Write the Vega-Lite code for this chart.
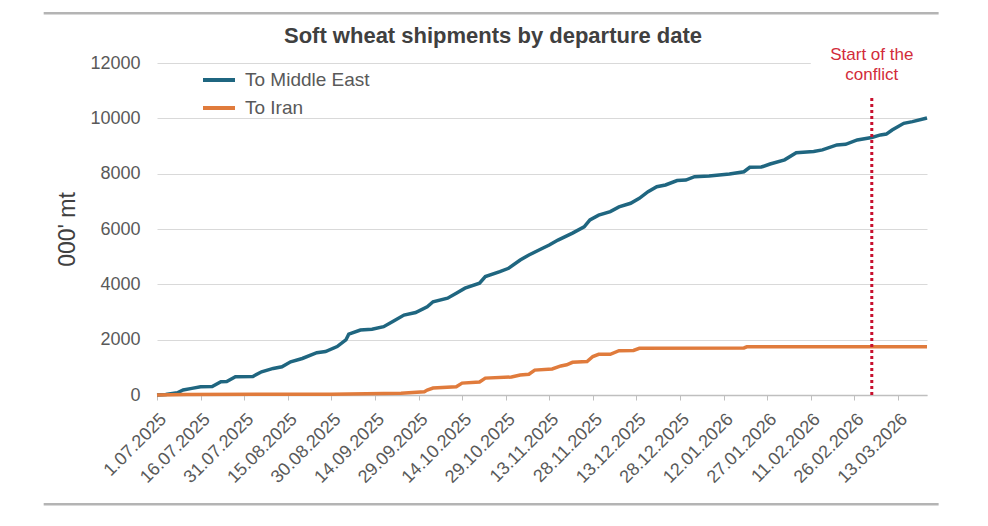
{
  "$schema": "https://vega.github.io/schema/vega-lite/v6.json",
  "autosize": {"type": "none"},
  "padding": {"left": 157, "top": 63, "right": 61, "bottom": 131},
  "width": 770,
  "height": 332,
  "background": "white",
  "title": {
    "text": "Soft wheat shipments by departure date",
    "font": "Liberation Sans",
    "fontSize": 22,
    "fontWeight": "bold",
    "color": "#404040",
    "dx": -49,
    "dy": 40
  },
  "datasets": {
    "shipments": [
      {"date": "2025-07-01", "series": "To Middle East", "kt": 0},
      {"date": "2025-07-04", "series": "To Middle East", "kt": 20},
      {"date": "2025-07-08", "series": "To Middle East", "kt": 80},
      {"date": "2025-07-10", "series": "To Middle East", "kt": 180},
      {"date": "2025-07-13", "series": "To Middle East", "kt": 240},
      {"date": "2025-07-16", "series": "To Middle East", "kt": 300},
      {"date": "2025-07-20", "series": "To Middle East", "kt": 310},
      {"date": "2025-07-23", "series": "To Middle East", "kt": 480},
      {"date": "2025-07-25", "series": "To Middle East", "kt": 490},
      {"date": "2025-07-28", "series": "To Middle East", "kt": 660},
      {"date": "2025-08-03", "series": "To Middle East", "kt": 670},
      {"date": "2025-08-06", "series": "To Middle East", "kt": 840},
      {"date": "2025-08-10", "series": "To Middle East", "kt": 960},
      {"date": "2025-08-13", "series": "To Middle East", "kt": 1020},
      {"date": "2025-08-16", "series": "To Middle East", "kt": 1200},
      {"date": "2025-08-20", "series": "To Middle East", "kt": 1320},
      {"date": "2025-08-25", "series": "To Middle East", "kt": 1530},
      {"date": "2025-08-28", "series": "To Middle East", "kt": 1570},
      {"date": "2025-09-01", "series": "To Middle East", "kt": 1750},
      {"date": "2025-09-04", "series": "To Middle East", "kt": 1990},
      {"date": "2025-09-05", "series": "To Middle East", "kt": 2200},
      {"date": "2025-09-09", "series": "To Middle East", "kt": 2350},
      {"date": "2025-09-13", "series": "To Middle East", "kt": 2380},
      {"date": "2025-09-17", "series": "To Middle East", "kt": 2470},
      {"date": "2025-09-20", "series": "To Middle East", "kt": 2650},
      {"date": "2025-09-24", "series": "To Middle East", "kt": 2890},
      {"date": "2025-09-28", "series": "To Middle East", "kt": 2980},
      {"date": "2025-10-02", "series": "To Middle East", "kt": 3190},
      {"date": "2025-10-04", "series": "To Middle East", "kt": 3370},
      {"date": "2025-10-09", "series": "To Middle East", "kt": 3500},
      {"date": "2025-10-12", "series": "To Middle East", "kt": 3680},
      {"date": "2025-10-15", "series": "To Middle East", "kt": 3860},
      {"date": "2025-10-20", "series": "To Middle East", "kt": 4040},
      {"date": "2025-10-22", "series": "To Middle East", "kt": 4280},
      {"date": "2025-10-27", "series": "To Middle East", "kt": 4460},
      {"date": "2025-10-30", "series": "To Middle East", "kt": 4580},
      {"date": "2025-11-03", "series": "To Middle East", "kt": 4880},
      {"date": "2025-11-06", "series": "To Middle East", "kt": 5060},
      {"date": "2025-11-10", "series": "To Middle East", "kt": 5270},
      {"date": "2025-11-13", "series": "To Middle East", "kt": 5420},
      {"date": "2025-11-16", "series": "To Middle East", "kt": 5600},
      {"date": "2025-11-21", "series": "To Middle East", "kt": 5850},
      {"date": "2025-11-25", "series": "To Middle East", "kt": 6080},
      {"date": "2025-11-27", "series": "To Middle East", "kt": 6330},
      {"date": "2025-11-30", "series": "To Middle East", "kt": 6500},
      {"date": "2025-12-04", "series": "To Middle East", "kt": 6630},
      {"date": "2025-12-07", "series": "To Middle East", "kt": 6800},
      {"date": "2025-12-11", "series": "To Middle East", "kt": 6930},
      {"date": "2025-12-14", "series": "To Middle East", "kt": 7110},
      {"date": "2025-12-17", "series": "To Middle East", "kt": 7350},
      {"date": "2025-12-20", "series": "To Middle East", "kt": 7530},
      {"date": "2025-12-23", "series": "To Middle East", "kt": 7590},
      {"date": "2025-12-27", "series": "To Middle East", "kt": 7750},
      {"date": "2025-12-30", "series": "To Middle East", "kt": 7770},
      {"date": "2026-01-02", "series": "To Middle East", "kt": 7890},
      {"date": "2026-01-07", "series": "To Middle East", "kt": 7920},
      {"date": "2026-01-14", "series": "To Middle East", "kt": 7990},
      {"date": "2026-01-19", "series": "To Middle East", "kt": 8070},
      {"date": "2026-01-21", "series": "To Middle East", "kt": 8230},
      {"date": "2026-01-25", "series": "To Middle East", "kt": 8240},
      {"date": "2026-01-28", "series": "To Middle East", "kt": 8350},
      {"date": "2026-02-02", "series": "To Middle East", "kt": 8500},
      {"date": "2026-02-06", "series": "To Middle East", "kt": 8760},
      {"date": "2026-02-12", "series": "To Middle East", "kt": 8800},
      {"date": "2026-02-15", "series": "To Middle East", "kt": 8860},
      {"date": "2026-02-20", "series": "To Middle East", "kt": 9040},
      {"date": "2026-02-23", "series": "To Middle East", "kt": 9060},
      {"date": "2026-02-27", "series": "To Middle East", "kt": 9220},
      {"date": "2026-03-04", "series": "To Middle East", "kt": 9310},
      {"date": "2026-03-07", "series": "To Middle East", "kt": 9400},
      {"date": "2026-03-09", "series": "To Middle East", "kt": 9430},
      {"date": "2026-03-11", "series": "To Middle East", "kt": 9580},
      {"date": "2026-03-15", "series": "To Middle East", "kt": 9820},
      {"date": "2026-03-18", "series": "To Middle East", "kt": 9880},
      {"date": "2026-03-23", "series": "To Middle East", "kt": 10010},
      {"date": "2025-07-01", "series": "To Iran", "kt": 0},
      {"date": "2025-07-11", "series": "To Iran", "kt": 20},
      {"date": "2025-08-30", "series": "To Iran", "kt": 30},
      {"date": "2025-09-23", "series": "To Iran", "kt": 60},
      {"date": "2025-10-01", "series": "To Iran", "kt": 120},
      {"date": "2025-10-02", "series": "To Iran", "kt": 180},
      {"date": "2025-10-04", "series": "To Iran", "kt": 250},
      {"date": "2025-10-12", "series": "To Iran", "kt": 300},
      {"date": "2025-10-14", "series": "To Iran", "kt": 430},
      {"date": "2025-10-20", "series": "To Iran", "kt": 470},
      {"date": "2025-10-22", "series": "To Iran", "kt": 610},
      {"date": "2025-10-31", "series": "To Iran", "kt": 650},
      {"date": "2025-11-03", "series": "To Iran", "kt": 720},
      {"date": "2025-11-06", "series": "To Iran", "kt": 750},
      {"date": "2025-11-08", "series": "To Iran", "kt": 900},
      {"date": "2025-11-14", "series": "To Iran", "kt": 940},
      {"date": "2025-11-17", "series": "To Iran", "kt": 1050},
      {"date": "2025-11-19", "series": "To Iran", "kt": 1090},
      {"date": "2025-11-21", "series": "To Iran", "kt": 1180},
      {"date": "2025-11-26", "series": "To Iran", "kt": 1210},
      {"date": "2025-11-28", "series": "To Iran", "kt": 1390},
      {"date": "2025-11-30", "series": "To Iran", "kt": 1470},
      {"date": "2025-12-04", "series": "To Iran", "kt": 1470},
      {"date": "2025-12-07", "series": "To Iran", "kt": 1600},
      {"date": "2025-12-12", "series": "To Iran", "kt": 1610},
      {"date": "2025-12-14", "series": "To Iran", "kt": 1690},
      {"date": "2026-01-19", "series": "To Iran", "kt": 1700},
      {"date": "2026-01-20", "series": "To Iran", "kt": 1740},
      {"date": "2026-03-23", "series": "To Iran", "kt": 1740}
    ],
    "frame": [
      {"from": "2025-05-23", "to": "2026-03-27", "level": 13800},
      {"from": "2025-05-23", "to": "2026-03-27", "level": -3950}
    ],
    "backdrop": [
      {"from": "2026-02-11", "to": "2026-03-27", "low": 11300, "high": 12700}
    ],
    "conflict": [
      {"date": "2026-03-04", "low": 0, "high": 10800, "labelLevel": 12290, "note": "Start of the\nconflict"}
    ]
  },
  "layer": [
    {
      "data": {"name": "shipments"},
      "mark": {"type": "line", "strokeWidth": 3.5, "interpolate": "linear"},
      "encoding": {
        "x": {
          "field": "date",
          "type": "temporal",
          "scale": {
            "type": "utc",
            "domain": [
              {"year": 2025, "month": 7, "date": 1, "utc": true},
              {"year": 2026, "month": 3, "date": 23, "utc": true}
            ]
          },
          "axis": {
            "title": null,
            "values": [
              {"year": 2025, "month": 7, "date": 1, "utc": true},
              {"year": 2025, "month": 7, "date": 16, "utc": true},
              {"year": 2025, "month": 7, "date": 31, "utc": true},
              {"year": 2025, "month": 8, "date": 15, "utc": true},
              {"year": 2025, "month": 8, "date": 30, "utc": true},
              {"year": 2025, "month": 9, "date": 14, "utc": true},
              {"year": 2025, "month": 9, "date": 29, "utc": true},
              {"year": 2025, "month": 10, "date": 14, "utc": true},
              {"year": 2025, "month": 10, "date": 29, "utc": true},
              {"year": 2025, "month": 11, "date": 13, "utc": true},
              {"year": 2025, "month": 11, "date": 28, "utc": true},
              {"year": 2025, "month": 12, "date": 13, "utc": true},
              {"year": 2025, "month": 12, "date": 28, "utc": true},
              {"year": 2026, "month": 1, "date": 12, "utc": true},
              {"year": 2026, "month": 1, "date": 27, "utc": true},
              {"year": 2026, "month": 2, "date": 11, "utc": true},
              {"year": 2026, "month": 2, "date": 26, "utc": true},
              {"year": 2026, "month": 3, "date": 13, "utc": true}
            ],
            "format": "%-d.%m.%Y",
            "labelAngle": -45,
            "labelFont": "Liberation Sans",
            "labelFontSize": 18,
            "labelColor": "#595959",
            "labelPadding": 10,
            "labelOverlap": false,
            "labelFlush": false,
            "domainColor": "#bfbfbf",
            "domainWidth": 1.5,
            "tickColor": "#bfbfbf",
            "tickSize": 5,
            "grid": false
          }
        },
        "y": {
          "field": "kt",
          "type": "quantitative",
          "scale": {"domain": [0, 12000], "nice": false},
          "axis": {
            "title": "000' mt",
            "titleFont": "Liberation Sans",
            "titleFontSize": 23,
            "titleFontWeight": "normal",
            "titleColor": "#404040",
            "titlePadding": 10,
            "values": [0, 2000, 4000, 6000, 8000, 10000, 12000],
            "format": "d",
            "labelFont": "Liberation Sans",
            "labelFontSize": 18,
            "labelColor": "#595959",
            "labelPadding": 17,
            "domain": false,
            "ticks": false,
            "grid": true,
            "gridColor": "#d9d9d9",
            "gridWidth": 1
          }
        },
        "color": {
          "field": "series",
          "type": "nominal",
          "sort": ["To Middle East", "To Iran"],
          "scale": {"domain": ["To Middle East", "To Iran"], "range": ["#1f6680", "#e07b3c"]},
          "legend": {
            "title": null,
            "orient": "none",
            "legendX": 44,
            "legendY": -1,
            "padding": 0,
            "symbolType": "stroke",
            "symbolSize": 1024,
            "symbolStrokeWidth": 4,
            "rowPadding": -8,
            "labelOffset": 8,
            "labelFont": "Liberation Sans",
            "labelFontSize": 19,
            "labelColor": "#595959"
          }
        }
      }
    },
    {
      "data": {"name": "frame"},
      "mark": {"type": "rule", "color": "#b4b4b4", "strokeWidth": 2.5},
      "encoding": {
        "x": {"field": "from", "type": "temporal"},
        "x2": {"field": "to"},
        "y": {"field": "level", "type": "quantitative"}
      }
    },
    {
      "data": {"name": "backdrop"},
      "mark": {"type": "rect", "color": "white"},
      "encoding": {
        "x": {"field": "from", "type": "temporal"},
        "x2": {"field": "to"},
        "y": {"field": "low", "type": "quantitative"},
        "y2": {"field": "high"}
      }
    },
    {
      "data": {"name": "conflict"},
      "mark": {"type": "rule", "color": "#c8102e", "strokeWidth": 3, "strokeDash": [3, 3]},
      "encoding": {
        "x": {"field": "date", "type": "temporal"},
        "y": {"field": "low", "type": "quantitative"},
        "y2": {"field": "high"}
      }
    },
    {
      "data": {"name": "conflict"},
      "mark": {
        "type": "text",
        "font": "Liberation Sans",
        "fontSize": 17,
        "color": "#d22c3a",
        "align": "center",
        "baseline": "middle",
        "lineBreak": "\n",
        "lineHeight": 20
      },
      "encoding": {
        "x": {"field": "date", "type": "temporal"},
        "y": {"field": "labelLevel", "type": "quantitative"},
        "text": {"field": "note"}
      }
    }
  ],
  "config": {
    "view": {"stroke": null}
  }
}
